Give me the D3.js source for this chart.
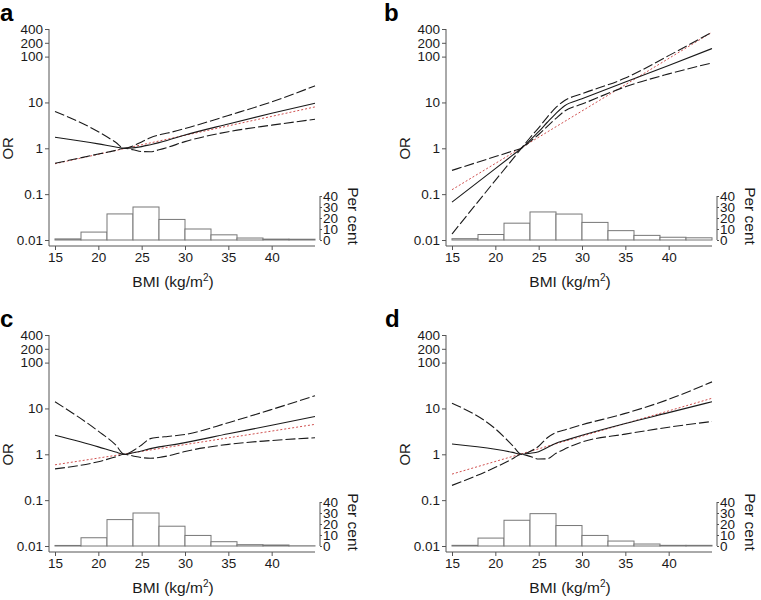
<!DOCTYPE html>
<html>
<head>
<meta charset="utf-8">
<script src="https://cdn.jsdelivr.net/npm/d3@7"></script>
<style>
  html, body { margin: 0; padding: 0; background: #fff; }
  svg { display: block; font-family: "Liberation Sans", Arial, Helvetica, sans-serif; }
</style>
</head>
<body>
<svg id="chart" width="761" height="600"></svg>
<script>
// ---------- data ----------
const bmiGrid = [15, 20, 22, 23, 24, 25, 26, 27, 28, 30, 35, 40, 45];
const linearBmi = [15, 45];
const binStarts = [15, 18, 21, 24, 27, 30, 33, 36, 39, 42];
const binWidth = 3;
const xTicks = [15, 20, 25, 30, 35, 40];
const yTicks = [0.01, 0.1, 1, 10, 100, 200, 400];
const yTickLabels = ["0.01", "0.1", "1", "10", "100", "200", "400"];
const pctTicks = [0, 10, 20, 30, 40];
const panelLabels = ["a", "b", "c", "d"];

// panel a
const estA   = [1.74, 1.25, 1.07, 1.0, 1.02, 1.09, 1.2, 1.33, 1.5, 1.95, 3.4, 5.8, 9.6];
const upperA = [6.35, 2.3, 1.35, 1.0, 1.12, 1.38, 1.7, 1.95, 2.15, 2.7, 5.2, 10.3, 23];
const lowerA = [0.47, 0.75, 0.9, 1.0, 0.93, 0.85, 0.84, 0.93, 1.05, 1.4, 2.3, 3.2, 4.3];
const linA   = [0.46, 8.0];
const histA  = [1.0, 7.2, 23.7, 30, 18.7, 10, 4.7, 1.8, 0.8, 0.7];

// panel b
const estB   = [0.067, 0.36, 0.71, 1.0, 1.5, 2.3, 3.7, 5.8, 8.5, 12, 28, 64, 150];
const upperB = [0.0135, 0.2, 0.58, 1.0, 1.7, 2.8, 4.8, 7.8, 11, 15.5, 34, 105, 340];
const lowerB = [0.33, 0.66, 0.87, 1.0, 1.4, 2.0, 3.0, 4.5, 6.5, 9.2, 22, 42, 73];
const linB   = [0.125, 340];
const histB  = [1.2, 5, 15.3, 25.5, 23.6, 16, 8.5, 4.2, 2.5, 2];

// panel c
const estC   = [2.6, 1.45, 1.12, 1.0, 1.08, 1.18, 1.33, 1.45, 1.55, 1.8, 2.8, 4.3, 6.7];
const upperC = [14, 3.2, 1.6, 1.0, 1.2, 1.6, 2.2, 2.35, 2.45, 2.7, 4.9, 9.5, 19];
const lowerC = [0.48, 0.69, 0.88, 1.0, 0.92, 0.85, 0.82, 0.85, 0.92, 1.15, 1.65, 2.0, 2.3];
const linC   = [0.59, 4.5];
const histC  = [0.5, 7.5, 24, 30, 18, 9.6, 3.9, 1.2, 0.9, 0.2];

// panel d
const estD   = [1.68, 1.29, 1.1, 1.0, 1.05, 1.14, 1.4, 1.75, 2.0, 2.6, 4.7, 8.1, 14];
const upperD = [13, 3.6, 1.55, 1.0, 1.15, 1.5, 2.3, 3.0, 3.4, 4.4, 7.8, 15.8, 38];
const lowerD = [0.21, 0.52, 0.8, 1.0, 0.9, 0.79, 0.8, 1.05, 1.3, 1.85, 2.75, 3.9, 5.2];
const linD   = [0.37, 16.7];
const histD  = [0.6, 7.2, 23.4, 29.4, 18.6, 9.6, 4.5, 1.8, 0.6, 0.6];

const panels = [
  { label: panelLabels[0], est: estA, upper: upperA, lower: lowerA, lin: linA, hist: histA },
  { label: panelLabels[1], est: estB, upper: upperB, lower: lowerB, lin: linB, hist: histB },
  { label: panelLabels[2], est: estC, upper: upperC, lower: lowerC, lin: linC, hist: histC },
  { label: panelLabels[3], est: estD, upper: upperD, lower: lowerD, lin: linD, hist: histD }
];

// ---------- layout ----------
const offsets = [[0, 0], [397, 0], [0, 306], [397, 306]];
const labelX = [0, 384, 0, 385];
const axisX = 49, axisY = 246;
const x = d3.scaleLinear().domain([15, 45]).range([55, 315]);
const y = d3.scaleLog().domain([0.01, 400]).range([240, 29]);
const pct = d3.scaleLinear().domain([0, 40]).range([240, 196]);

const svg = d3.select("#chart");
const ink = "#1a1a1a", axisCol = "#555";

panels.forEach((p, i) => {
  const g = svg.append("g").attr("transform", `translate(${offsets[i][0]},${offsets[i][1]})`);

  // panel letter
  g.append("text").attr("x", labelX[i] - offsets[i][0]).attr("y", 21)
    .attr("font-size", 24).attr("font-weight", "bold").attr("fill", "#000").text(p.label);

  // histogram
  g.selectAll("rect.bar").data(binStarts).enter().append("rect")
    .attr("class", "bar")
    .attr("x", d => x(d))
    .attr("width", d => x(d + binWidth) - x(d))
    .attr("y", (d, j) => pct(p.hist[j]))
    .attr("height", (d, j) => pct(0) - pct(p.hist[j]))
    .attr("fill", "#fff").attr("stroke", "#777").attr("stroke-width", 1);

  // left y axis
  const yAxis = d3.axisLeft(y).tickValues(yTicks)
    .tickFormat((d, j) => yTickLabels[j]).tickSize(4).tickPadding(2);
  const ya = g.append("g").attr("transform", `translate(${axisX},0)`).call(yAxis);
  ya.select(".domain").remove();
  ya.append("line").attr("x1", 0).attr("x2", 0).attr("y1", 29).attr("y2", axisY)
    .attr("stroke", axisCol);
  ya.selectAll(".tick line").attr("stroke", axisCol);
  ya.selectAll(".tick text").attr("font-size", 13.5).attr("fill", ink)
    .attr("font-family", "Liberation Sans, Arial, sans-serif");

  // bottom x axis
  const xAxis = d3.axisBottom(x).tickValues(xTicks).tickSize(4).tickPadding(2);
  const xa = g.append("g").attr("transform", `translate(0,${axisY})`).call(xAxis);
  xa.select(".domain").remove();
  xa.append("line").attr("x1", axisX).attr("x2", x(45)).attr("y1", 0).attr("y2", 0)
    .attr("stroke", axisCol);
  xa.selectAll(".tick line").attr("stroke", axisCol);
  xa.selectAll(".tick text").attr("font-size", 13.5).attr("fill", ink)
    .attr("font-family", "Liberation Sans, Arial, sans-serif");

  // right percent axis
  const pAxis = d3.axisRight(pct).tickValues(pctTicks).tickSize(2).tickPadding(1);
  const pa = g.append("g").attr("transform", `translate(320,0)`).call(pAxis);
  pa.select(".domain").attr("stroke", axisCol).attr("d", `M0,${pct(40)}V${pct(0)}`);
  pa.selectAll(".tick line").attr("stroke", axisCol);
  pa.selectAll(".tick text").attr("font-size", 13.5).attr("fill", ink)
    .attr("font-family", "Liberation Sans, Arial, sans-serif");

  // titles
  g.append("text").attr("transform", `translate(${axisX - 36},${y(1)}) rotate(-90)`)
    .attr("text-anchor", "middle").attr("font-size", 15).attr("fill", ink).text("OR");
  g.append("text").attr("transform", `translate(348,${(pct(40) + pct(0)) / 2 - 2}) rotate(90)`)
    .attr("text-anchor", "middle").attr("font-size", 15.5).attr("fill", ink).text("Per cent");
  const bt = g.append("text").attr("x", axisX + 124).attr("y", 287)
    .attr("text-anchor", "middle").attr("font-size", 15.5).attr("fill", ink);
  bt.append("tspan").text("BMI (kg/m");
  bt.append("tspan").attr("font-size", 10).attr("dy", -6).text("2");
  bt.append("tspan").attr("dy", 6).text(")");

  // curves
  const line = d3.line().x(d => x(d[0])).y(d => y(d[1])).curve(d3.curveMonotoneX);
  const pts = arr => bmiGrid.map((b, j) => [b, arr[j]]);

  g.append("path").attr("d", line(linearBmi.map((b, j) => [b, p.lin[j]])))
    .attr("fill", "none").attr("stroke", "#d0504f").attr("stroke-width", 1)
    .attr("stroke-dasharray", "2,2");
  [p.upper, p.lower].forEach(arr => {
    g.append("path").attr("d", line(pts(arr)))
      .attr("fill", "none").attr("stroke", ink).attr("stroke-width", 1.1)
      .attr("stroke-dasharray", "10,3");
  });
  g.append("path").attr("d", line(pts(p.est)))
    .attr("fill", "none").attr("stroke", ink).attr("stroke-width", 1.1);
});
</script>
</body>
</html>
